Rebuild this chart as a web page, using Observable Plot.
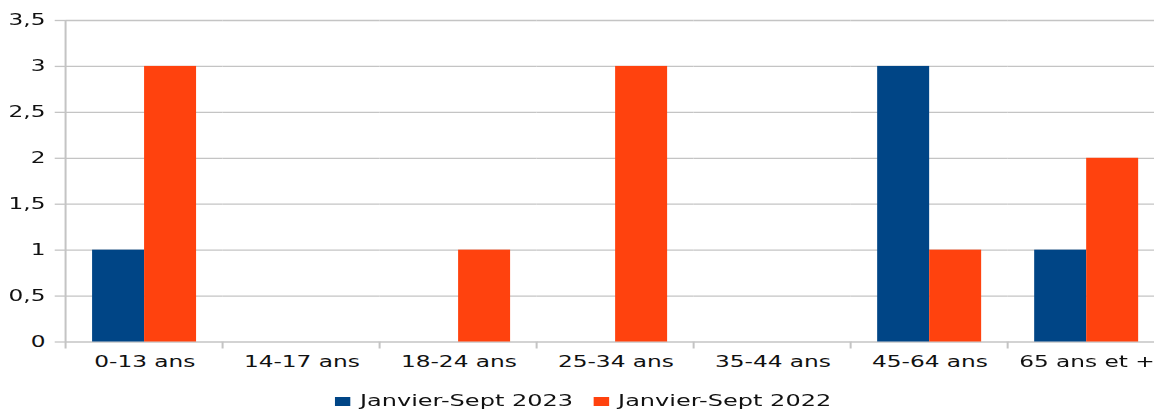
<!DOCTYPE html>
<html>
<head>
<meta charset="utf-8">
<script src="https://cdn.jsdelivr.net/npm/d3@7"></script>
<script src="https://cdn.jsdelivr.net/npm/@observablehq/plot@0.6"></script>
<style>
  html, body { margin: 0; padding: 0; background: #fff; overflow: hidden; }
  #wrap { width: 744.5px; height: 410px; transform: scaleX(1.55); transform-origin: 0 0;
          font-family: "DejaVu Sans", sans-serif; color: #111; }
  #legend { display: flex; justify-content: center; align-items: center; margin-top: 14px;
            font-size: 15.5px; line-height: 15px; padding-left: 8px; }
  .item { display: flex; align-items: center; margin: 0 6.5px; }
  .sw { width: 10px; height: 9px; margin-right: 6px; }
</style>
</head>
<body>
<div id="wrap"><div id="chart"></div><div id="legend"></div></div>
<script>
const categories = ["0-13 ans", "14-17 ans", "18-24 ans", "25-34 ans", "35-44 ans", "45-64 ans", "65 ans et +"];
const series = ["Janvier-Sept 2023", "Janvier-Sept 2022"];
const values2023 = [1, 0, 0, 0, 0, 3, 1];
const values2022 = [3, 0, 1, 3, 0, 1, 2];
const colors = ["#004586", "#ff420e"];
const yTicks = [0, 0.5, 1, 1.5, 2, 2.5, 3, 3.5];

const data = [];
categories.forEach((c, i) => {
  data.push({cat: c, series: series[0], value: values2023[i]});
  data.push({cat: c, series: series[1], value: values2022[i]});
});

const gridColor = "#c4c4c4";
const fmt = d => String(d).replace(".", ",");

const plot = Plot.plot({
  width: 744.5,
  height: 380,
  marginTop: 20,
  marginBottom: 38.5,
  marginLeft: 42.3,
  marginRight: 0,
  style: {fontFamily: "DejaVu Sans", fontSize: "15px", color: "#111", background: "#fff", overflow: "visible"},
  fx: {domain: categories, range: [42.3, 751.4], paddingInner: 0, paddingOuter: 0, round: false, label: null},
  x: {domain: series, paddingInner: 0, paddingOuter: 0.51, round: false, axis: null},
  y: {domain: [0, 3.5], label: null},
  color: {domain: series, range: colors},
  marks: [
    Plot.gridY(yTicks, {stroke: gridColor, strokeOpacity: 1, strokeWidth: 1.3}),
    Plot.barY(data, {fx: "cat", x: "series", y: "value", fill: "series", insetLeft: 0, insetRight: 0}),
    Plot.axisY(yTicks, {tickSize: 7, tickPadding: 6.5, tickFormat: fmt, stroke: gridColor, strokeWidth: 1.3, fill: "#111", label: null}),
    Plot.axisFx({anchor: "bottom", tickSize: 0, tickPadding: 14, label: null, fill: "#111"})
  ]
});
document.getElementById("chart").appendChild(plot);

// category boundary ticks and vertical axis line, positioned with Plot's own scales
const fx = plot.scale("fx");
const y = plot.scale("y");
const svg = d3.select(plot);
const y0 = y.apply(0), yTop = y.apply(3.5);
const edges = categories.map(c => fx.apply(c));
edges.push(edges[edges.length - 1] + fx.bandwidth);
const g = svg.append("g").attr("stroke", gridColor).attr("stroke-width", 1.3);
g.append("line").attr("x1", edges[0]).attr("x2", edges[0]).attr("y1", yTop).attr("y2", y0 + 7);
edges.slice(1).forEach(x => {
  g.append("line").attr("x1", x).attr("x2", x).attr("y1", y0).attr("y2", y0 + 7);
});

// legend
const legend = d3.select("#legend");
series.forEach((s, i) => {
  const it = legend.append("div").attr("class", "item");
  it.append("div").attr("class", "sw").style("background", colors[i]);
  it.append("span").text(s);
});
</script>
</body>
</html>
